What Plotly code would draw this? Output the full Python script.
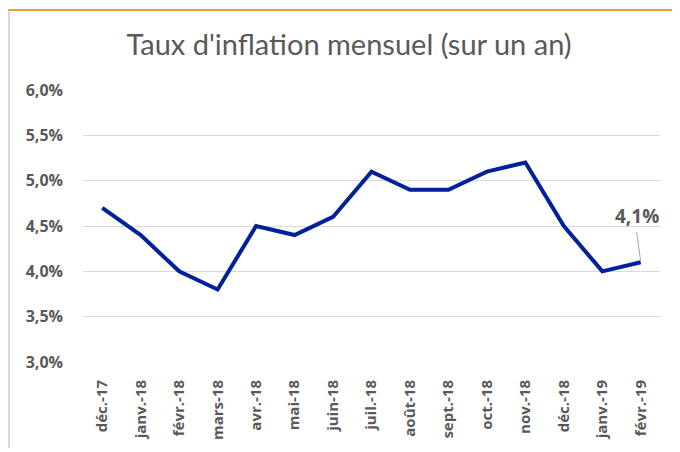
import plotly.graph_objects as go

months = ["déc.-17", "janv.-18", "févr.-18", "mars-18", "avr.-18", "mai-18", "juin-18",
          "juil.-18", "août-18", "sept.-18", "oct.-18", "nov.-18", "déc.-18", "janv.-19", "févr.-19"]
inflation = [4.7, 4.4, 4.0, 3.8, 4.5, 4.4, 4.6, 5.1, 4.9, 4.9, 5.1, 5.2, 4.5, 4.0, 4.1]
y_ticks = [3.0, 3.5, 4.0, 4.5, 5.0, 5.5, 6.0]
y_tick_labels = ["3,0%", "3,5%", "4,0%", "4,5%", "5,0%", "5,5%", "6,0%"]
last_label = "4,1%"

W, H = 672, 444
L, R, T, B = 75, 20, 82, 87
PW, PH = W - L - R, H - T - B
TITLE_FONT = "Lato"
TICK_FONT = "Open Sans"
GRAY = "#595959"

fig = go.Figure()
fig.add_trace(go.Scatter(x=months, y=inflation, mode="lines",
                         line=dict(color="#002199", width=4), hoverinfo="skip"))

fig.add_annotation(x=months[-1], y=inflation[-1], text="<b>" + last_label + "</b>",
                   showarrow=True, arrowhead=0, arrowwidth=1, arrowcolor="#A6A6A6",
                   ax=-4, ay=-30, font=dict(size=19, color=GRAY, family=TICK_FONT),
                   yanchor="bottom", borderpad=2)

fig.update_layout(
    width=W, height=H,
    margin=dict(l=L, r=R, t=T, b=B),
    paper_bgcolor="white", plot_bgcolor="white",
    showlegend=False,
    title=dict(text="Taux d'inflation mensuel (sur un an)", x=341 / W, xanchor="center",
               y=1 - 37 / H, yanchor="middle",
               font=dict(size=29, color=GRAY, family=TITLE_FONT)),
    xaxis=dict(type="category", range=[-0.5, len(months) - 0.5], tickangle=-90,
               showgrid=False, showline=False,
               tickfont=dict(size=15, color=GRAY, family=TICK_FONT),
               tickprefix="<b>", ticksuffix="</b>",
               ticks="", ticklabelstandoff=14, fixedrange=True),
    yaxis=dict(range=[3.0, 6.0], tickvals=y_ticks,
               ticktext=["<b>" + t + "</b>" for t in y_tick_labels],
               showgrid=True, gridcolor="#D9D9D9", gridwidth=1, zeroline=False,
               showline=False, ticks="", ticklabelstandoff=19,
               tickfont=dict(size=16, color=GRAY, family=TICK_FONT)),
)

# decorative frame: orange top rule and light gray left border
fig.add_shape(type="line", xref="paper", yref="paper", x0=-L / PW, x1=1 + R / PW,
              y0=1 + (T - 1) / PH, y1=1 + (T - 1) / PH, line=dict(color="#E8A033", width=2))
fig.add_shape(type="line", xref="paper", yref="paper", x0=-(L - 1) / PW, x1=-(L - 1) / PW,
              y0=1 + (T - 2) / PH, y1=-B / PH, line=dict(color="#D9D9D9", width=2))

fig.write_html("out.html")
